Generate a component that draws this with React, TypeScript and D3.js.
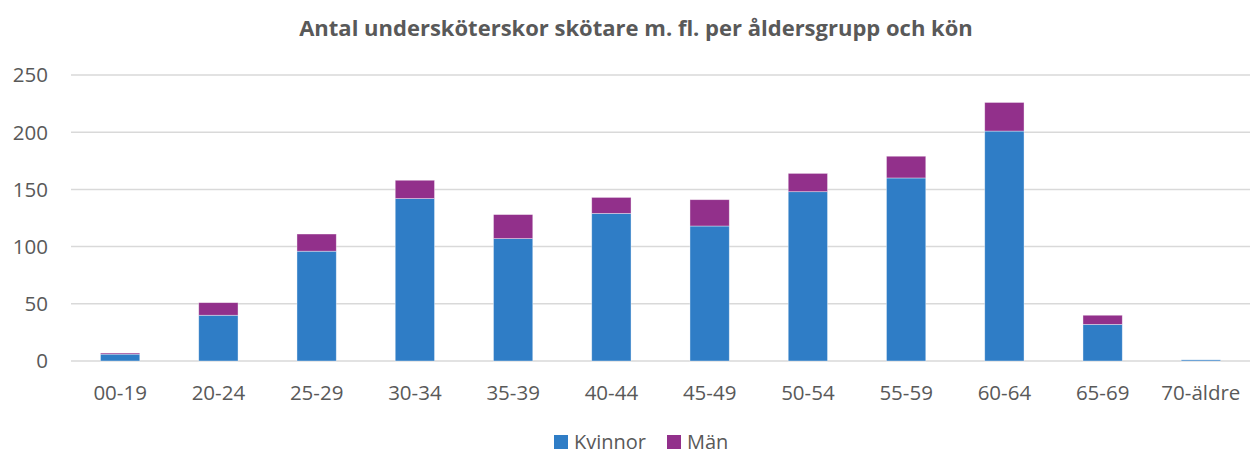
import * as d3 from "d3";

const categories = ["00-19", "20-24", "25-29", "30-34", "35-39", "40-44", "45-49", "50-54", "55-59", "60-64", "65-69", "70-äldre"];
const kvinnor = [6, 40, 96, 142, 107, 129, 118, 148, 160, 201, 32, 1];
const man = [1, 11, 15, 16, 21, 14, 23, 16, 19, 25, 8, 0];
const yTicks = [0, 50, 100, 150, 200, 250];

const seriesNames = ["Kvinnor", "Män"];
const colors = ["#2F7DC6", "#92308B"];

const W = 1250;
const H = 454;
const margin = { top: 75, right: 0, bottom: 93, left: 71 };
const font = "'Open Sans', 'Liberation Sans', sans-serif";
const textColor = "#595959";

export default function App() {
  const x = d3
    .scaleBand()
    .domain(categories)
    .range([margin.left, W - margin.right])
    .paddingInner(0.6)
    .paddingOuter(0.3);
  const y = d3
    .scaleLinear()
    .domain([0, 250])
    .range([H - margin.bottom, margin.top]);

  const rows = categories.map((c, i) => ({ cat: c, Kvinnor: kvinnor[i], Män: man[i] }));
  const stacked = d3.stack<any>().keys(seriesNames)(rows);

  return (
    <svg
      width={W}
      height={H}
      style={{ position: "absolute", left: 0, top: 0, background: "#fff" }}
      fontFamily={font}
    >
      <text
        x={636}
        y={36}
        textAnchor="middle"
        fontSize={22}
        fontWeight="bold"
        fill={textColor}
      >
        Antal undersköterskor skötare m. fl. per åldersgrupp och kön
      </text>

      {/* grid + y labels */}
      {yTicks.map((t) => (
        <g key={t}>
          <line
            x1={margin.left}
            x2={W - margin.right}
            y1={y(t)}
            y2={y(t)}
            stroke="#d9d9d9"
            strokeWidth={1.5}
          />
          <text
            x={48}
            y={y(t)}
            dy="0.36em"
            textAnchor="end"
            fontSize={20.5}
            fill={textColor}
          >
            {t}
          </text>
        </g>
      ))}

      {/* bars */}
      {stacked.map((s, si) => (
        <g key={s.key} fill={colors[si]}>
          {s.map((d, i) => (
            <rect
              key={i}
              x={x(categories[i])}
              y={y(d[1])}
              width={x.bandwidth()}
              height={Math.max(0, y(d[0]) - y(d[1]))}
              stroke="#ffffff"
              strokeOpacity={0.5}
              strokeWidth={0.75}
            />
          ))}
        </g>
      ))}

      {/* x labels */}
      {categories.map((c) => (
        <text
          key={c}
          x={(x(c) ?? 0) + x.bandwidth() / 2}
          y={y(0) + 39}
          textAnchor="middle"
          fontSize={20.5}
          fill={textColor}
        >
          {c}
        </text>
      ))}

      {/* legend */}
      <g transform="translate(554,435)">
        <rect x={0} y={0} width={14} height={14} fill={colors[0]} />
        <text x={20} y={7} dy="0.36em" fontSize={20} fill={textColor}>
          Kvinnor
        </text>
        <rect x={113} y={0} width={14} height={14} fill={colors[1]} />
        <text x={133} y={7} dy="0.36em" fontSize={20} fill={textColor}>
          Män
        </text>
      </g>
    </svg>
  );
}
